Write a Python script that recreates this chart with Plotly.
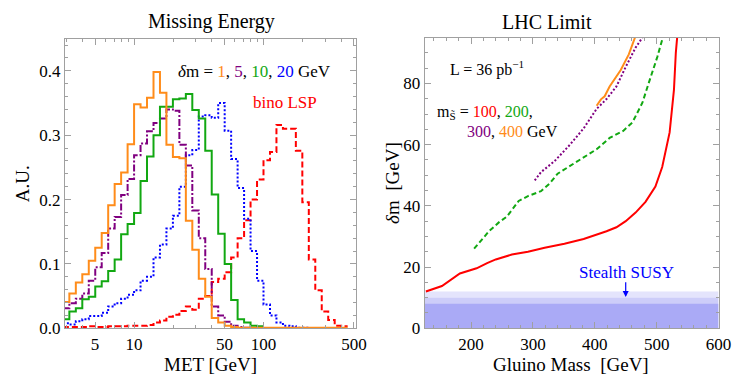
import plotly.graph_objects as go

# MET histogram bin edges (log-spaced, GeV)
met_edges = [2.818, 3.162, 3.548, 3.981, 4.467, 5.012, 5.623, 6.310, 7.079, 7.943,
             8.913, 10.0, 11.22, 12.59, 14.13, 15.85, 17.78, 19.95, 22.39, 25.12,
             28.18, 31.62, 35.48, 39.81, 44.67, 50.12, 56.23, 63.10, 70.79, 79.43,
             89.13, 100.0, 112.2, 125.9, 141.3, 158.5, 177.8, 199.5, 223.9, 251.2,
             281.8, 316.2, 354.8, 398.1, 446.7]

# histogram heights (A.U.), one per bin starting at the first edge
met_dm1 = [0.041, 0.054, 0.071, 0.084, 0.105, 0.125, 0.148, 0.191, 0.224, 0.242,
           0.286, 0.348, 0.343, 0.358, 0.398, 0.366, 0.285, 0.266, 0.264, 0.167,
           0.122, 0.077, 0.049, 0.016, 0.009, 0.004, 0.002, 0.001, 0.001, 0.001,
           0.001, 0.001, 0.001, 0.001, 0.001, 0.001, 0.001, 0.001, 0.001, 0.001,
           0.001, 0.001, 0.001, 0.001]
met_dm5 = [0.031, 0.039, 0.046, 0.054, 0.074, 0.095, 0.117, 0.155, 0.173, 0.207,
           0.232, 0.269, 0.287, 0.306, 0.319, 0.326, 0.340, 0.338, 0.285, 0.253,
           0.183, 0.140, 0.092, 0.034, 0.020, 0.010, 0.004, 0.002, 0.001]
met_dm10 = [0.014, 0.026, 0.031, 0.045, 0.049, 0.065, 0.073, 0.089, 0.107, 0.146,
            0.162, 0.179, 0.229, 0.267, 0.300, 0.344, 0.344, 0.356, 0.357, 0.364,
            0.339, 0.326, 0.276, 0.208, 0.147, 0.100, 0.044, 0.014, 0.009, 0.004,
            0.003]
met_dm20 = [0.008, 0.006, 0.011, 0.014, 0.019, 0.019, 0.024, 0.034, 0.039, 0.046,
            0.052, 0.059, 0.074, 0.080, 0.110, 0.130, 0.155, 0.175, 0.220, 0.269,
            0.277, 0.329, 0.331, 0.327, 0.350, 0.307, 0.263, 0.218, 0.170, 0.120,
            0.074, 0.037, 0.020, 0.009, 0.004, 0.003, 0.001, 0.001]
met_bino = [0.002, 0.002, 0.002, 0.002, 0.003, 0.002, 0.002, 0.003, 0.003, 0.003,
            0.004, 0.004, 0.004, 0.005, 0.009, 0.012, 0.018, 0.021, 0.027, 0.034,
            0.029, 0.046, 0.050, 0.072, 0.077, 0.087, 0.110, 0.140, 0.168, 0.200,
            0.231, 0.261, 0.274, 0.316, 0.310, 0.310, 0.276, 0.196, 0.107, 0.059,
            0.026, 0.013, 0.004, 0.003]

# LHC limit curves: gluino mass [GeV] vs delta m [GeV]
lim100_x = [127, 153, 182, 209, 226, 240, 266, 292, 319, 351, 382, 403, 419, 435,
            450, 466, 482, 498, 509, 521, 528, 531, 534]
lim100_y = [12.0, 13.8, 17.9, 19.6, 21.3, 22.5, 24.1, 25.0, 26.3, 27.6, 29.2, 30.5,
            31.7, 33.0, 35.0, 37.8, 41.3, 46.3, 52.7, 64.0, 78.0, 90.0, 97.0]
lim200_x = [205, 229, 245, 258, 277, 292, 313, 327, 340, 372, 403, 424, 446, 461,
            469, 477, 487, 501, 510, 513]
lim200_y = [26.0, 31.7, 34.6, 36.5, 41.6, 43.2, 44.8, 47.3, 50.5, 54.6, 58.5, 62.2,
            64.5, 67.3, 70.5, 73.7, 80.0, 88.6, 95.0, 97.0]
lim300_x = [303, 313, 335, 360, 382, 403, 419, 435, 450, 466, 477, 480]
lim300_y = [48.3, 51.0, 54.6, 60.0, 65.3, 71.7, 74.9, 79.0, 85.4, 91.7, 95.0, 97.0]
lim400_x = [403, 410, 416, 424, 442, 455, 465, 467]
lim400_y = [72.7, 74.8, 75.8, 79.0, 84.4, 89.5, 95.0, 97.0]

# stealth SUSY shaded bands (upper delta m)
stealth_levels = [12, 10, 8]
stealth_colors = ["#e4e4fc", "#cdcdf9", "#aaaaf6"]

FONT = "Liberation Serif"
ORANGE = "#ff8c1a"
PURPLE = "#800080"
GREEN = "#12a812"
BLUE = "#0000ff"
RED = "#ff0000"
FRAME = "#a0a0a0"

fig = go.Figure()


def add_hist(vals, color, dash, width=2.0):
    xs = met_edges[:len(vals) + 1]
    ys = vals + [vals[-1]]
    fig.add_trace(go.Scatter(
        x=xs, y=ys, mode="lines", line_shape="hv",
        line=dict(color=color, width=width, dash=dash),
        xaxis="x", yaxis="y", showlegend=False, hoverinfo="skip"
    ))


add_hist(met_bino, RED, "6px,3px")
add_hist(met_dm20, BLUE, "2px,2px")
add_hist(met_dm5, PURPLE, "7px,2px,2px,2px")
add_hist(met_dm10, GREEN, "solid")
add_hist(met_dm1, ORANGE, "solid")

for lvl, col in zip(stealth_levels, stealth_colors):
    fig.add_trace(go.Scatter(
        x=[125, 600], y=[lvl, lvl], mode="lines", fill="tozeroy",
        fillcolor=col, line=dict(width=0, color=col),
        xaxis="x2", yaxis="y2", showlegend=False, hoverinfo="skip"
    ))

fig.add_trace(go.Scatter(x=lim100_x, y=lim100_y, mode="lines",
                         line=dict(color=RED, width=2), xaxis="x2", yaxis="y2",
                         showlegend=False))
fig.add_trace(go.Scatter(x=lim200_x, y=lim200_y, mode="lines",
                         line=dict(color=GREEN, width=2, dash="5px,3px"),
                         xaxis="x2", yaxis="y2", showlegend=False))
fig.add_trace(go.Scatter(x=lim300_x, y=lim300_y, mode="lines",
                         line=dict(color=PURPLE, width=2, dash="2px,2px"),
                         xaxis="x2", yaxis="y2", showlegend=False))
fig.add_trace(go.Scatter(x=lim400_x, y=lim400_y, mode="lines",
                         line=dict(color=ORANGE, width=2), xaxis="x2", yaxis="y2",
                         showlegend=False))

axis_common = dict(
    showgrid=False, zeroline=False, showline=True, linecolor=FRAME, linewidth=1,
    mirror="allticks", ticks="inside", ticklen=6, tickcolor=FRAME,
    tickfont=dict(family=FONT, size=17, color="black"),
)

fig.update_layout(
    width=747, height=379,
    margin=dict(l=0, r=0, t=0, b=0),
    paper_bgcolor="white", plot_bgcolor="white",
    font=dict(family=FONT, size=17, color="black"),
    xaxis=dict(
        axis_common, type="log", domain=[0.0776, 0.474],
        range=[0.466, 2.714], anchor="y",
        tickvals=[5, 10, 50, 100, 500], ticktext=["5", "10", "50", "100", "500"],
        minor=dict(ticks="inside", ticklen=3, tickcolor=FRAME,
                   tickvals=[3, 4, 6, 7, 8, 9, 20, 30, 40, 60, 70, 80, 90,
                             200, 300, 400]),
    ),
    yaxis=dict(
        axis_common, domain=[0.132, 0.917], range=[0, 0.45], anchor="x",
        tickvals=[0, 0.1, 0.2, 0.3, 0.4],
        ticktext=["0.0", "0.1", "0.2", "0.3", "0.4"],
        minor=dict(ticks="inside", ticklen=3, tickcolor=FRAME, dtick=0.02),
    ),
    xaxis2=dict(
        axis_common, domain=[0.5676, 0.968], range=[125, 600], anchor="y2",
        tickvals=[200, 300, 400, 500, 600],
        minor=dict(ticks="inside", ticklen=3, tickcolor=FRAME, dtick=20, tick0=0),
    ),
    yaxis2=dict(
        axis_common, domain=[0.132, 0.92], range=[0, 95], anchor="x2",
        tickvals=[0, 20, 40, 60, 80],
        minor=dict(ticks="inside", ticklen=3, tickcolor=FRAME, dtick=5, tick0=0),
    ),
)

txt = dict(family=FONT, size=16, color="black")
annotations = [
    dict(text="Missing Energy", x=0.277, y=0.963, font=dict(family=FONT, size=20)),
    dict(text="LHC Limit", x=0.734, y=0.963, font=dict(family=FONT, size=20)),
    dict(text="A.U.", x=0.019, y=0.525, textangle=-90, font=dict(family=FONT, size=19)),
    dict(text="MET [GeV]", x=0.276, y=0.033, font=dict(family=FONT, size=19)),
    dict(text="<i>δ</i>m  [GeV]", x=0.524, y=0.525, textangle=-90,
         font=dict(family=FONT, size=19)),
    dict(text="Gluino Mass  [GeV]", x=0.767, y=0.033, font=dict(family=FONT, size=19)),
    dict(text=("<i>δ</i>m = <span style='color:%s'>1</span>, "
               "<span style='color:%s'>5</span>, "
               "<span style='color:%s'>10</span>, "
               "<span style='color:%s'>20</span> GeV") % (ORANGE, PURPLE, GREEN, BLUE),
         x=0.336, y=0.8285, font=dict(family=FONT, size=17, color="black")),
    dict(text="bino LSP", x=0.3775, y=0.744, font=dict(family=FONT, size=17, color=RED)),
    dict(text="L = 36 pb<sup>−1</sup>", x=0.653, y=0.836, font=txt),
    dict(text=("m<sub>S̃</sub> = <span style='color:%s'>100</span>, "
               "<span style='color:%s'>200</span>,") % (RED, GREEN),
         x=0.582, y=0.718, xanchor="left", font=txt),
    dict(text=("<span style='color:%s'>300</span>, "
               "<span style='color:%s'>400</span> GeV") % (PURPLE, ORANGE),
         x=0.6225, y=0.665, xanchor="left", font=txt),
    dict(text="Stealth SUSY", x=0.842, y=0.282, font=dict(family=FONT, size=17, color=BLUE)),
]
for a in annotations:
    a.setdefault("xanchor", "center")
    fig.add_annotation(xref="paper", yref="paper", yanchor="middle",
                       showarrow=False, **a)

fig.add_annotation(x=450, y=10.2, ax=450, ay=15.5, xref="x2", yref="y2",
                   axref="x2", ayref="y2", showarrow=True, arrowhead=2,
                   arrowsize=1, arrowwidth=1.2, arrowcolor=BLUE, text="")

fig.write_html("out.html")
